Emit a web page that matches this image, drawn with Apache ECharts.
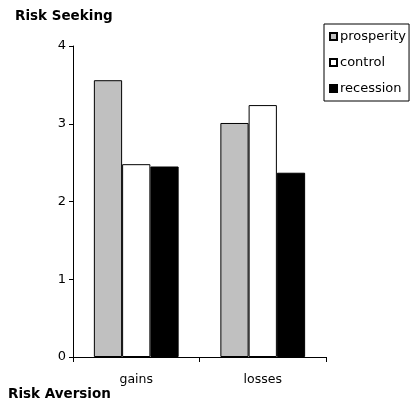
<!DOCTYPE html>
<html>
<head>
<meta charset="utf-8">
<style>
  html, body { margin: 0; padding: 0; background: #fff; }
  #chart { width: 410px; height: 405px; }
</style>
<script src="https://cdn.jsdelivr.net/npm/echarts@6/dist/echarts.min.js"></script>
</head>
<body>
<div id="chart"></div>
<script>
// Mean risk preference by frame and priming condition
const categories = ['gains', 'losses'];
const prosperity = [3.56, 3.01];
const control = [2.48, 3.24];
const recession = [2.45, 2.37];
const yTicks = [0, 1, 2, 3, 4];

const FONT = '"DejaVu Sans", sans-serif';
const chart = echarts.init(document.getElementById('chart'), null, { renderer: 'canvas' });

function barSeries(name, data, fill) {
  return {
    name: name,
    type: 'bar',
    data: data,
    barGap: '0%',
    barCategoryGap: '33%',
    itemStyle: { color: fill, borderColor: '#000', borderWidth: 1 },
    emphasis: { disabled: true },
    animation: false
  };
}

chart.setOption({
  animation: false,
  backgroundColor: '#fff',
  textStyle: { fontFamily: FONT, color: '#000' },
  title: [
    {
      text: 'Risk Seeking', left: 15, top: 9, padding: 0,
      textStyle: { fontFamily: FONT, fontSize: 13.5, fontWeight: 'bold', color: '#000' }
    },
    {
      text: 'Risk Aversion', left: 8, top: 387, padding: 0,
      textStyle: { fontFamily: FONT, fontSize: 13.5, fontWeight: 'bold', color: '#000' }
    }
  ],
  legend: {
    orient: 'vertical',
    left: 324,
    top: 24,
    padding: [6, 3, 6, 5],
    itemGap: 13,
    itemWidth: 7,
    itemHeight: 7,
    icon: 'rect',
    borderColor: '#000',
    borderWidth: 1,
    backgroundColor: '#fff',
    textStyle: { fontFamily: FONT, fontSize: 13, color: '#000', padding: [0, 0, 0, -2] },
    data: ['prosperity', 'control', 'recession']
  },
  grid: { left: 73, right: 84, top: 46, bottom: 48, containLabel: false },
  xAxis: {
    type: 'category',
    data: categories,
    axisLine: { show: true, lineStyle: { color: '#000', width: 1 } },
    axisTick: { show: true, length: 5, alignWithLabel: false, lineStyle: { color: '#000' } },
    axisLabel: { fontFamily: FONT, fontSize: 12.5, color: '#000', margin: 16 },
    splitLine: { show: false }
  },
  yAxis: {
    type: 'value',
    min: yTicks[0],
    max: yTicks[yTicks.length - 1],
    interval: 1,
    axisLine: { show: true, lineStyle: { color: '#000', width: 1 } },
    axisTick: { show: true, length: 4, lineStyle: { color: '#000' } },
    axisLabel: { fontFamily: FONT, fontSize: 13, color: '#000', margin: 7 },
    splitLine: { show: false }
  },
  series: [
    barSeries('prosperity', prosperity, '#c0c0c0'),
    barSeries('control', control, '#ffffff'),
    barSeries('recession', recession, '#000000')
  ]
});
</script>
</body>
</html>
